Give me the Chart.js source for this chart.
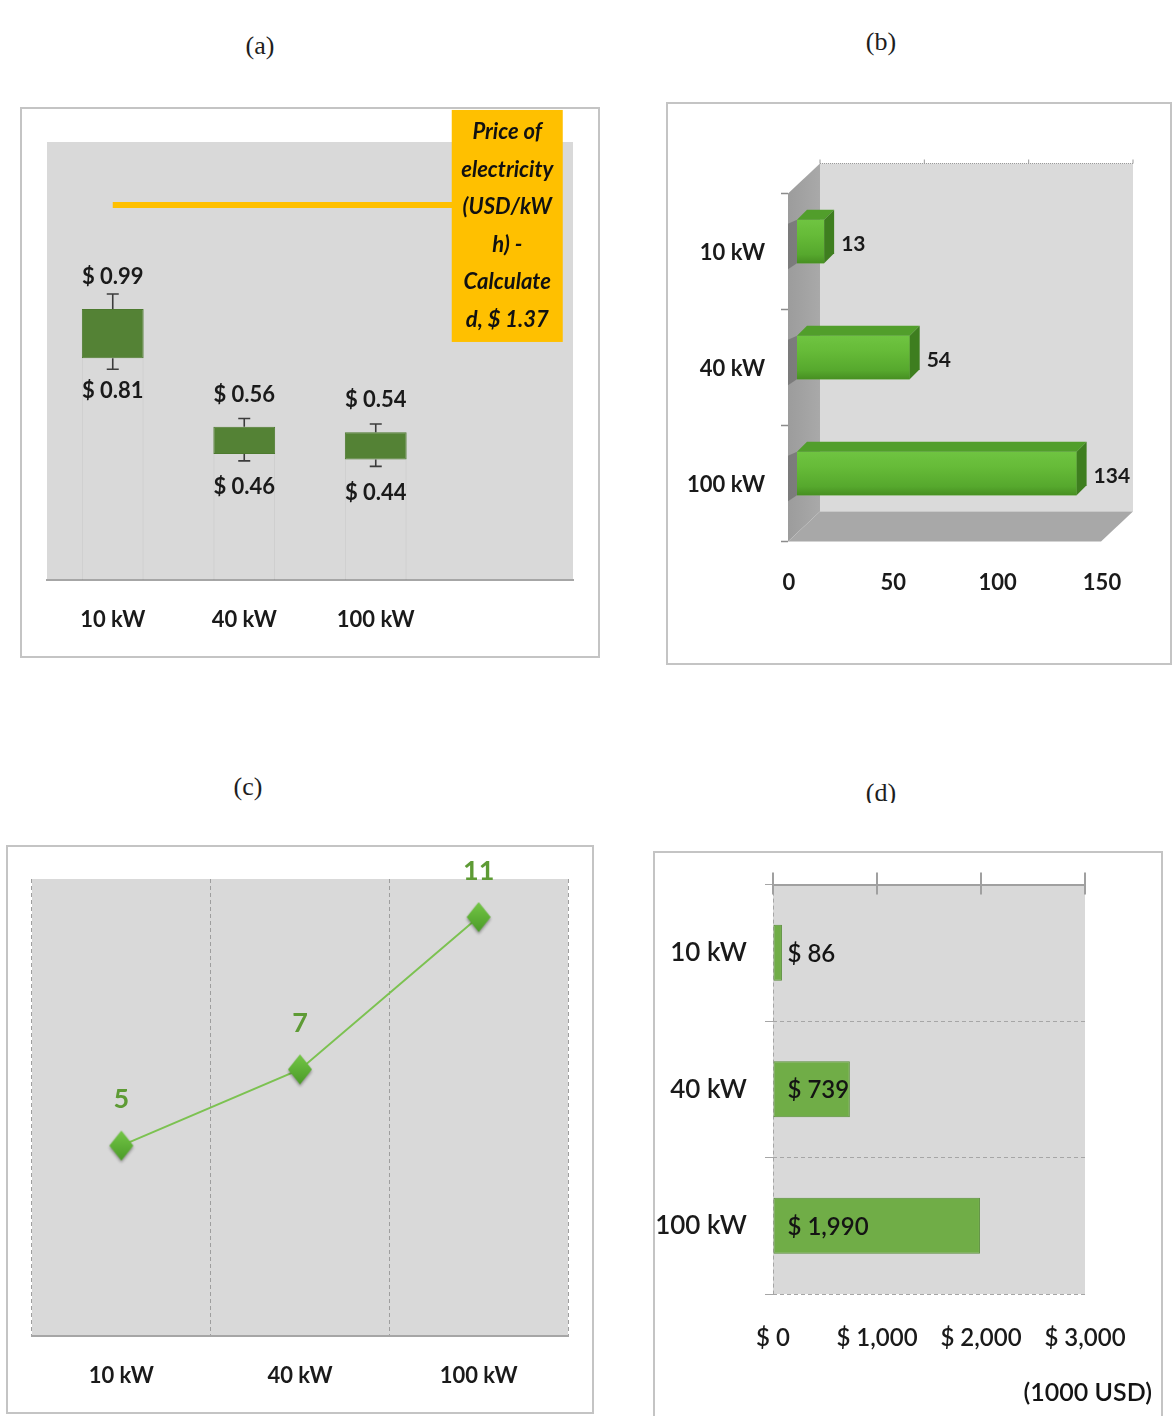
<!DOCTYPE html>
<html>
<head>
<meta charset="utf-8">
<script src="https://cdn.jsdelivr.net/npm/chart.js@4.4.1/dist/chart.umd.min.js"></script>
<style>
  html, body { margin: 0; padding: 0; background: #fff; }
  body { width: 1172px; height: 1416px; position: relative; overflow: hidden; }
  .frame { position: absolute; border: 2px solid #c4c4c4; box-sizing: border-box; }
  canvas.plot { position: absolute; }
  .title { position: absolute; font-family: 'Liberation Serif', 'DejaVu Serif', serif; font-size: 26px;
           line-height: 1; color: #1e1e1e; width: 80px; margin-left: -40px; text-align: center; }
  .clip { position: absolute; overflow: hidden; }
</style>
</head>
<body>

<div class="title" style="left:260px; top:33px">(a)</div>
<div class="title" style="left:881px; top:29px">(b)</div>
<div class="title" style="left:248px; top:774px">(c)</div>
<div class="clip" style="left:840px; top:770px; width:82px; height:33px">
  <div class="title" style="left:41px; top:10px">(d)</div>
</div>

<div class="frame" style="left:20px; top:107px; width:580px; height:551px"></div>
<canvas class="plot" id="chartA" width="580" height="551" style="left:20px; top:107px"></canvas>

<div class="frame" style="left:666px; top:102px; width:506px; height:563px"></div>
<canvas class="plot" id="chartB" width="506" height="563" style="left:666px; top:102px"></canvas>

<div class="frame" style="left:6px; top:845px; width:588px; height:569px"></div>
<canvas class="plot" id="chartC" width="588" height="569" style="left:6px; top:845px"></canvas>

<div class="frame" style="left:653px; top:851px; width:510px; height:572px"></div>
<canvas class="plot" id="chartD" width="510" height="572" style="left:653px; top:851px"></canvas>

<script>
// ── data ──────────────────────────────────────────────
const sizeLabels = ['10 kW', '40 kW', '100 kW'];

// (a) electricity cost range per system size, USD/kWh
const priceLow = [0.81, 0.46, 0.44];
const priceHigh = [0.99, 0.56, 0.54];
const priceErrUp = [0.055, 0.03, 0.03];
const priceErrDown = [0.04, 0.025, 0.025];
const gridPrice = 1.37;

// (b)
const barValuesB = [13, 54, 134];
const ticksB = [0, 50, 100, 150];

// (c)
const lineValuesC = [5, 7, 11];

// (d) cost, 1000 USD
const costValues = [86, 739, 1990];
const ticksD = [0, 1000, 2000, 3000];

// ── shared ────────────────────────────────────────────
const FONT = 'Lato, "Open Sans", sans-serif';
Chart.defaults.font.family = FONT;
Chart.defaults.color = '#1a1a1a';
Chart.defaults.animation = false;
Chart.defaults.plugins.legend.display = false;
Chart.defaults.plugins.tooltip.enabled = false;

const plotBg = color => ({
    id: 'plotBg',
    beforeDraw(chart) {
        const { ctx, chartArea: a } = chart;
        ctx.save();
        ctx.fillStyle = color;
        ctx.fillRect(a.left, a.top, a.right - a.left, a.bottom - a.top);
        ctx.restore();
    },
});

function poly(ctx, pts, fill) {
    ctx.beginPath();
    ctx.moveTo(pts[0][0], pts[0][1]);
    for (let i = 1; i < pts.length; i++) ctx.lineTo(pts[i][0], pts[i][1]);
    ctx.closePath();
    ctx.fillStyle = fill;
    ctx.fill();
}

const money = v => '$ ' + v.toLocaleString('en-US');

// ══════════════════════════════════════════════════════
// (a) floating boxes with whiskers + grid price line
// ══════════════════════════════════════════════════════
const catsA = [...sizeLabels, ''];

const whiskers = {
    id: 'whiskers',
    afterDatasetsDraw(chart) {
        const { ctx } = chart;
        const y = chart.scales.y;
        ctx.save();
        ctx.strokeStyle = '#3c3c3c';
        ctx.lineWidth = 1.6;
        ctx.fillStyle = '#1a1a1a';
        ctx.font = `bold 22px ${FONT}`;
        ctx.textAlign = 'center';
        ctx.textBaseline = 'middle';
        chart.getDatasetMeta(2).data.forEach((bar, i) => {
            const yHi = y.getPixelForValue(priceHigh[i]);
            const yLo = y.getPixelForValue(priceLow[i]);
            const yTop = y.getPixelForValue(priceHigh[i] + priceErrUp[i]);
            const yBot = y.getPixelForValue(priceLow[i] - priceErrDown[i]);
            ctx.beginPath();
            ctx.moveTo(bar.x, yHi); ctx.lineTo(bar.x, yTop);
            ctx.moveTo(bar.x - 6, yTop); ctx.lineTo(bar.x + 6, yTop);
            ctx.moveTo(bar.x, yLo); ctx.lineTo(bar.x, yBot);
            ctx.moveTo(bar.x - 6, yBot); ctx.lineTo(bar.x + 6, yBot);
            ctx.stroke();
            ctx.fillText('$ ' + priceHigh[i].toFixed(2), bar.x, yHi - 32);
            ctx.fillText('$ ' + priceLow[i].toFixed(2), bar.x, yLo + 33);
        });
        ctx.restore();
    },
};

// label box at the far end of the price line
const priceBox = {
    id: 'priceBox',
    afterDatasetsDraw(chart) {
        const { ctx } = chart;
        const pt = chart.getDatasetMeta(0).data[catsA.length - 1];
        const lines = ['Price of', 'electricity', '(USD/kW', 'h) -', 'Calculate', `d, $ ${gridPrice.toFixed(2)}`];
        ctx.save();
        ctx.fillStyle = '#FFC000';
        ctx.fillRect(pt.x - 55.5, pt.y - 95, 111, 232);
        ctx.fillStyle = '#111';
        ctx.font = `italic bold 22px ${FONT}`;
        ctx.textAlign = 'center';
        ctx.textBaseline = 'middle';
        lines.forEach((t, i) => ctx.fillText(t, pt.x, pt.y - 73 + i * 37.6));
        ctx.restore();
    },
};

new Chart(document.getElementById('chartA'), {
    type: 'bar',
    data: {
        labels: catsA,
        datasets: [
            {
                type: 'line', data: catsA.map(() => gridPrice),
                borderColor: '#FFC000', borderWidth: 6, pointRadius: 0, order: 0,
            },
            {
                data: priceLow.map(v => [0, v]),
                backgroundColor: 'rgba(0,0,0,0)', borderColor: 'rgba(0,0,0,0.05)',
                borderWidth: { left: 1, right: 1, top: 0, bottom: 0 }, borderSkipped: false,
                grouped: false, order: 2,
            },
            {
                data: priceLow.map((v, i) => [v, priceHigh[i]]),
                backgroundColor: '#548235', borderColor: '#4d7a2f', borderWidth: 1,
                borderSkipped: false, grouped: false, order: 1,
            },
        ],
    },
    options: {
        responsive: false,
        layout: { padding: { left: 27, right: 27, top: 35, bottom: 0 } },
        datasets: { bar: { barPercentage: 0.47, categoryPercentage: 1 } },
        scales: {
            x: {
                grid: { display: false, drawTicks: false },
                border: { color: '#a6a6a6', width: 2 },
                ticks: { font: { size: 22, weight: 'bold' }, color: '#1a1a1a', padding: 27 },
                afterFit: s => { s.height = 78; },
            },
            y: { display: false, min: 0, max: 1.6 },
        },
    },
    plugins: [plotBg('#d9d9d9'), whiskers, priceBox],
});

// ══════════════════════════════════════════════════════
// (b) 3-D style horizontal bars
// ══════════════════════════════════════════════════════
const FRONT = { x: -9, y: 10 };   // floor front edge relative to bar plane
const BACK = { x: 23, y: -20 };   // back wall relative to bar plane
const BAR_D = { x: 10, y: -10 };  // bar depth

const walls = {
    id: 'walls',
    beforeDatasetsDraw(chart) {
        const { ctx, chartArea: a } = chart;
        const x = chart.scales.x, y = chart.scales.y;
        ctx.save();
        // back wall
        ctx.fillStyle = '#dadada';
        ctx.fillRect(a.left + BACK.x, a.top + BACK.y, a.right - a.left, a.bottom - a.top);
        // side wall
        const gs = ctx.createLinearGradient(a.left + FRONT.x, 0, a.left + BACK.x, 0);
        gs.addColorStop(0, '#9c9c9c');
        gs.addColorStop(1, '#a9a9a9');
        poly(ctx, [
            [a.left + FRONT.x, a.top + FRONT.y], [a.left + BACK.x, a.top + BACK.y],
            [a.left + BACK.x, a.bottom + BACK.y], [a.left + FRONT.x, a.bottom + FRONT.y],
        ], gs);
        // floor
        poly(ctx, [
            [a.left + FRONT.x, a.bottom + FRONT.y], [a.left + BACK.x, a.bottom + BACK.y],
            [a.right + BACK.x, a.bottom + BACK.y], [a.right + FRONT.x, a.bottom + FRONT.y],
        ], '#a8a8a8');
        // dotted top edge of the back wall with value ticks
        ctx.strokeStyle = '#9a9a9a';
        ctx.lineWidth = 1;
        ctx.setLineDash([1, 1]);
        ctx.beginPath();
        ctx.moveTo(a.left + BACK.x, a.top + BACK.y);
        ctx.lineTo(a.right + BACK.x, a.top + BACK.y);
        ctx.stroke();
        ctx.setLineDash([]);
        ctx.beginPath();
        x.ticks.forEach(t => {
            const px = x.getPixelForValue(t.value) + BACK.x;
            ctx.moveTo(px, a.top + BACK.y); ctx.lineTo(px, a.top + BACK.y - 4);
        });
        ctx.stroke();
        // category ticks on the front edge of the side wall
        ctx.strokeStyle = '#8c8c8c';
        ctx.lineWidth = 1.5;
        ctx.beginPath();
        for (let i = 0; i <= barValuesB.length; i++) {
            const py = y.getPixelForValue(i - 0.5) + FRONT.y;
            ctx.moveTo(a.left + FRONT.x - 7, py); ctx.lineTo(a.left + FRONT.x, py);
        }
        ctx.stroke();
        ctx.restore();
    },
};

const bars3d = {
    id: 'bars3d',
    afterDatasetsDraw(chart) {
        const { ctx } = chart;
        ctx.save();
        chart.getDatasetMeta(0).data.forEach((el, i) => {
            const { x, y, base, height } = el.getProps(['x', 'y', 'base', 'height'], true);
            const t = y - height / 2, b = y + height / 2;
            // shadow on the side wall
            poly(ctx, [[base - 9, t + 4], [base, t], [base, b], [base - 9, b + 6]], 'rgba(60,60,60,0.35)');
            // front face
            const g = ctx.createLinearGradient(0, t, 0, b);
            g.addColorStop(0, '#6fc441');
            g.addColorStop(0.35, '#66bb38');
            g.addColorStop(0.8, '#56a82d');
            g.addColorStop(1, '#478f22');
            ctx.fillStyle = g;
            ctx.fillRect(base, t, x - base, height);
            // top face
            poly(ctx, [[base, t], [x, t], [x + BAR_D.x, t + BAR_D.y], [base + BAR_D.x, t + BAR_D.y]], '#519e2b');
            // end face
            poly(ctx, [[x, t], [x + BAR_D.x, t + BAR_D.y], [x + BAR_D.x, b + BAR_D.y], [x, b]], '#3e7e1f');
            // value
            ctx.fillStyle = '#1a1a1a';
            ctx.font = `bold 21px ${FONT}`;
            ctx.textAlign = 'left';
            ctx.textBaseline = 'middle';
            ctx.fillText(String(barValuesB[i]), x + 17, y + 3);
        });
        ctx.restore();
    },
};

new Chart(document.getElementById('chartB'), {
    type: 'bar',
    data: {
        labels: sizeLabels,
        datasets: [{ data: barValuesB, backgroundColor: '#5fb236', barPercentage: 0.375, categoryPercentage: 1 }],
    },
    options: {
        responsive: false,
        indexAxis: 'y',
        layout: { padding: { left: 0, right: 62, top: 81.5, bottom: 0 } },
        scales: {
            x: {
                min: 0, max: 150,
                afterBuildTicks: s => { s.ticks = ticksB.map(v => ({ value: v })); },
                grid: { display: false, drawTicks: false },
                border: { display: false },
                ticks: { font: { size: 22, weight: 'bold' }, padding: 38, labelOffset: -8 },
                afterFit: s => { s.height = 133.5; },
            },
            y: {
                grid: { display: false, drawTicks: false },
                border: { display: false },
                ticks: { font: { size: 22, weight: 'bold' }, padding: 32, labelOffset: 11 },
                afterFit: s => { s.width = 131; },
            },
        },
    },
    plugins: [walls, bars3d],
});

// ══════════════════════════════════════════════════════
// (c) line with diamond markers
// ══════════════════════════════════════════════════════
function diamondMarker() {
    const c = document.createElement('canvas');
    c.width = 32; c.height = 40;
    const g = c.getContext('2d');
    g.shadowColor = 'rgba(0,0,0,0.35)';
    g.shadowBlur = 3;
    g.shadowOffsetY = 2;
    const grad = g.createLinearGradient(0, 5, 0, 34);
    grad.addColorStop(0, '#74c746');
    grad.addColorStop(1, '#4c9c29');
    g.fillStyle = grad;
    g.beginPath();
    g.moveTo(16, 5); g.lineTo(28, 20); g.lineTo(16, 35); g.lineTo(4, 20);
    g.closePath();
    g.fill();
    return c;
}

const pointValues = {
    id: 'pointValues',
    afterDatasetsDraw(chart) {
        const { ctx } = chart;
        ctx.save();
        ctx.fillStyle = '#5e9b35';
        ctx.font = `bold 27px ${FONT}`;
        ctx.textAlign = 'center';
        ctx.textBaseline = 'middle';
        chart.getDatasetMeta(0).data.forEach((pt, i) => ctx.fillText(String(lineValuesC[i]), pt.x, pt.y - 46));
        ctx.restore();
    },
};

new Chart(document.getElementById('chartC'), {
    type: 'line',
    data: {
        labels: sizeLabels,
        datasets: [{
            data: lineValuesC, borderColor: '#7cc251', borderWidth: 2, tension: 0,
            pointStyle: diamondMarker(), pointRadius: 12,
        }],
    },
    options: {
        responsive: false,
        layout: { padding: { left: 26, right: 26, top: 34, bottom: 0 } },
        scales: {
            x: {
                offset: true,
                grid: { offset: true, color: '#9e9e9e', lineWidth: 1, drawTicks: false },
                border: { display: true, color: '#a6a6a6', width: 2, dash: [4, 3] },
                ticks: { font: { size: 22, weight: 'bold' }, padding: 27 },
                afterFit: s => { s.height = 78; },
            },
            y: { display: false, min: 0, max: 12 },
        },
    },
    plugins: [plotBg('#d9d9d9'), pointValues],
});

// ══════════════════════════════════════════════════════
// (d) horizontal bars, top axis line
// ══════════════════════════════════════════════════════
const topTicks = {
    id: 'topTicks',
    afterDraw(chart) {
        const { ctx, chartArea: a } = chart;
        const x2 = chart.scales.x2;
        ctx.save();
        ctx.strokeStyle = '#a0a0a0';
        ctx.lineWidth = 2;
        ctx.beginPath();
        x2.ticks.forEach(t => {
            const px = x2.getPixelForValue(t.value);
            ctx.moveTo(px, a.top - 12); ctx.lineTo(px, a.top + 10);
        });
        ctx.stroke();
        ctx.restore();
    },
};

const costLabels = {
    id: 'costLabels',
    afterDatasetsDraw(chart) {
        const { ctx } = chart;
        ctx.save();
        ctx.fillStyle = '#141414';
        ctx.font = `600 24px ${FONT}`;
        ctx.textAlign = 'left';
        ctx.textBaseline = 'middle';
        chart.getDatasetMeta(0).data.forEach((el, i) => ctx.fillText(money(costValues[i]), el.base + 14, el.y + 1));
        ctx.font = `600 25px ${FONT}`;
        ctx.textAlign = 'right';
        ctx.fillText('(1000 USD)', chart.width - 11, 542);
        ctx.restore();
    },
};

new Chart(document.getElementById('chartD'), {
    type: 'bar',
    data: {
        labels: sizeLabels,
        datasets: [{
            data: costValues, backgroundColor: '#70ad47', borderColor: '#5a8f3a', borderWidth: 1,
            borderSkipped: false, barPercentage: 0.41, categoryPercentage: 1,
        }],
    },
    options: {
        responsive: false,
        indexAxis: 'y',
        layout: { padding: { left: 0, right: 78, top: 29, bottom: 0 } },
        scales: {
            x: {
                position: 'bottom', min: 0, max: 3000,
                afterBuildTicks: s => { s.ticks = ticksD.map(v => ({ value: v })); },
                grid: { color: c => (c.tick && c.tick.value === 0 ? '#a6a6a6' : 'rgba(0,0,0,0)'), drawTicks: false },
                border: { display: false, dash: [4, 3] },
                ticks: { font: { size: 24, weight: '600' }, padding: 30, callback: v => money(v) },
                afterFit: s => { s.height = 129; },
            },
            x2: {
                type: 'linear', axis: 'x', position: 'top', min: 0, max: 3000,
                afterBuildTicks: s => { s.ticks = ticksD.map(v => ({ value: v })); },
                grid: { display: false, drawTicks: false },
                ticks: { display: false },
                border: { display: true, color: '#a0a0a0', width: 2 },
                afterFit: s => { s.height = 0; },
            },
            y: {
                grid: { offset: true, color: '#a6a6a6', tickLength: 8, drawTicks: true },
                border: { display: false, dash: [4, 3] },
                ticks: { font: { size: 26, weight: '600' }, padding: 18 },
                afterFit: s => { s.width = 120; },
            },
        },
    },
    plugins: [plotBg('#d9d9d9'), costLabels, topTicks],
});
</script>
</body>
</html>
